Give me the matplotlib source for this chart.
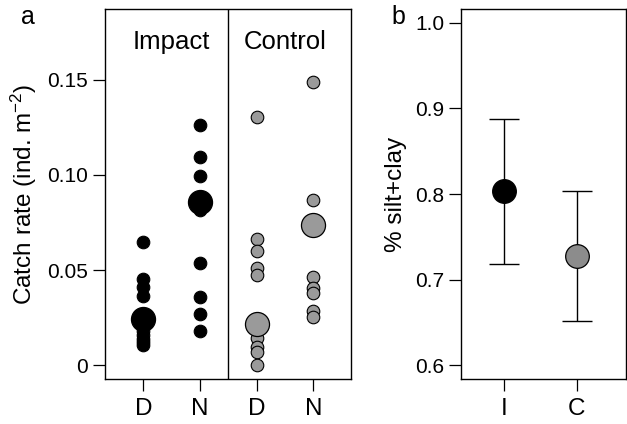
import matplotlib
matplotlib.use("Agg")
import matplotlib.pyplot as plt

plt.rcParams['font.family'] = ['Liberation Sans', 'DejaVu Sans']
plt.rcParams['mathtext.default'] = 'regular'

# panel a: individual catch rates, D = day, N = night
impact_day = [0.0647, 0.0453, 0.0411, 0.0362, 0.018, 0.016, 0.014, 0.012, 0.0105]
impact_night = [0.126, 0.1097, 0.0995, 0.0815, 0.054, 0.036, 0.027, 0.0178]
control_day = [0.1303, 0.0665, 0.0598, 0.051, 0.0476, 0.0144, 0.0095, 0.0068, 0.0004]
control_night = [0.149, 0.087, 0.0464, 0.0406, 0.038, 0.0283, 0.0254]
group_means = [0.0245, 0.086, 0.0219, 0.0735]
group_labels = ['D', 'N', 'D', 'N']

# panel b: sediment composition
sites = ['I', 'C']
silt_mean = [0.8035, 0.7276]
silt_low = [0.7187, 0.6514]
silt_high = [0.888, 0.8039]

black = 'black'
grey_a = '#9a9a9a'
grey_b = '#8c8c8c'

fig = plt.figure(figsize=(6.27, 4.24), dpi=100)
ax1 = fig.add_axes([0.1667, 0.1061, 0.3927, 0.8727])
ax2 = fig.add_axes([0.7348, 0.1061, 0.2632, 0.8727])

groups = [impact_day, impact_night, control_day, control_night]
for i, vals in enumerate(groups):
    pos = i + 1
    if i < 2:
        fc, ec = black, black
    else:
        fc, ec = grey_a, black
    ax1.scatter([pos] * len(vals), vals, s=82, facecolor=fc, edgecolor=ec,
                linewidth=0.8, zorder=3)
    ax1.scatter([pos], [group_means[i]], s=300, facecolor=fc, edgecolor=ec,
                linewidth=0.9, zorder=4)

ax1.axvline(2.5, color='black', linewidth=1.0)
ax1.set_xlim(0.315, 4.66)
ax1.set_ylim(-0.0072, 0.1872)
ax1.set_xticks([1, 2, 3, 4])
ax1.set_xticklabels(group_labels, fontsize=17.5)
ax1.set_yticks([0, 0.05, 0.10, 0.15])
ax1.set_yticklabels(['0', '0.05', '0.10', '0.15'], fontsize=15)
ax1.set_ylabel(r'Catch rate (ind. m$^{-2}$)', fontsize=17.5, labelpad=6)
ax1.text(1.5, 0.166, 'Impact', ha='center', va='baseline', fontsize=18.5)
ax1.text(3.5, 0.166, 'Control', ha='center', va='baseline', fontsize=18.5)

x_b = [1, 2]
colors_b = [black, grey_b]
for i in range(2):
    ax2.errorbar(x_b[i], silt_mean[i],
                 yerr=[[silt_mean[i] - silt_low[i]], [silt_high[i] - silt_mean[i]]],
                 fmt='none', ecolor='black', elinewidth=1.0, capsize=10.5,
                 capthick=1.0, zorder=2)
    ax2.scatter(x_b[i], silt_mean[i], s=290, facecolor=colors_b[i],
                edgecolor='black', linewidth=0.9, zorder=3)

ax2.set_xlim(0.404, 2.674)
ax2.set_ylim(0.584, 1.016)
ax2.set_xticks(x_b)
ax2.set_xticklabels(sites, fontsize=17.5)
ax2.set_yticks([0.6, 0.7, 0.8, 0.9, 1.0])
ax2.set_yticklabels(['0.6', '0.7', '0.8', '0.9', '1.0'], fontsize=15)
ax2.set_ylabel('% silt+clay', fontsize=17.5, labelpad=6)

for ax in (ax1, ax2):
    for sp in ax.spines.values():
        sp.set_linewidth(1.0)
    ax.tick_params(direction='out', length=8.5, width=0.9, pad=3.5)
    ax.tick_params(axis='x', pad=5)

fig.text(28 / 627, 1 - 17 / 424, 'a', ha='center', va='center', fontsize=18)
fig.text(398 / 627, 1 - 17 / 424, 'b', ha='center', va='center', fontsize=18)

fig.savefig('out.png', dpi=100)
